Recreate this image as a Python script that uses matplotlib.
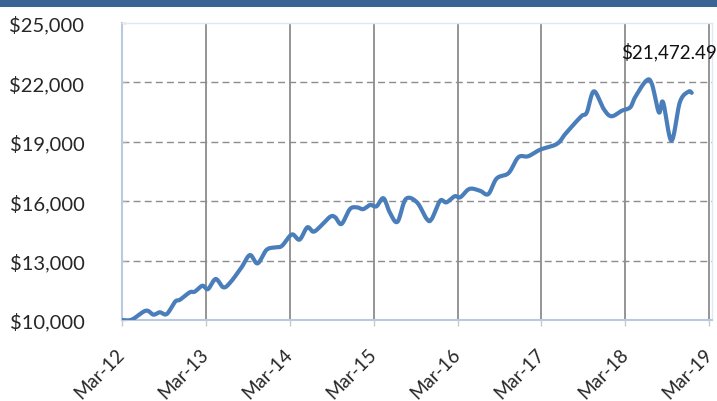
import numpy as np
import matplotlib
matplotlib.use("Agg")
import matplotlib.pyplot as plt
from matplotlib.patches import Rectangle
from matplotlib.ticker import FuncFormatter

plt.rcParams['font.family'] = ['Lato', 'DejaVu Sans']

# months after Mar-12 and portfolio value
months = [0, 1.4, 3.4, 4.5, 5.4, 6.4, 7.6, 8.3, 9.7, 10.4, 11.5, 12.3, 13.4, 14.5,
          15.5, 17.1, 18.3, 19.4, 20.7, 22.1, 22.9, 24.3, 25.4, 26.5, 27.4, 28.6,
          29.8, 30.5, 31.4, 32.6, 33.6, 34.5, 35.5, 36.4, 37.4, 38.3, 39.4, 40.6,
          42.2, 43.6, 44.3, 45.5, 46.4, 47.6, 48.4, 49.7, 51.2, 52.4, 53.6, 55.3,
          56.7, 58.1, 59.8, 62.2, 63.4, 64.8, 65.8, 66.5, 67.5, 68.9, 70.0, 71.5,
          72.7, 73.4, 75.0, 75.8, 76.8, 77.4, 78.6, 79.8, 81.0, 81.5]
values = [10000, 10020, 10470, 10270, 10390, 10300, 10925, 11025, 11400, 11430,
          11730, 11560, 12070, 11650, 11900, 12660, 13280, 12860, 13550, 13670,
          13750, 14320, 14060, 14680, 14460, 14800, 15220, 15190, 14850, 15600,
          15690, 15600, 15810, 15740, 16150, 15440, 14960, 16110, 15940, 15100,
          15100, 16020, 15940, 16250, 16200, 16620, 16530, 16360, 17150, 17420,
          18220, 18270, 18600, 18890, 19390, 19950, 20320, 20490, 21550, 20660,
          20290, 20570, 20740, 21250, 22090, 21920, 20490, 21000, 19060, 21000,
          21530, 21472.49]

tick_months = [0, 12, 24, 36, 48, 60, 72, 84]
tick_labels = ['Mar-12', 'Mar-13', 'Mar-14', 'Mar-15', 'Mar-16', 'Mar-17', 'Mar-18', 'Mar-19']
y_ticks = [10000, 13000, 16000, 19000, 22000, 25000]
last_label = '$21,472.49'


def smooth(xs, ys, n=16):
    # Catmull-Rom curve, like Excel's smoothed line
    pts = np.column_stack([xs, ys]).astype(float)
    p = np.vstack([pts[0], pts, pts[-1]])
    t = np.linspace(0, 1, n, endpoint=False)[:, None]
    out = []
    for i in range(len(pts) - 1):
        p0, p1, p2, p3 = p[i], p[i + 1], p[i + 2], p[i + 3]
        seg = 0.5 * (2 * p1 + (-p0 + p2) * t + (2 * p0 - 5 * p1 + 4 * p2 - p3) * t ** 2
                     + (-p0 + 3 * p1 - 3 * p2 + p3) * t ** 3)
        out.append(seg)
    out.append(pts[-1:])
    s = np.vstack(out)
    return s[:, 0], s[:, 1]


fig = plt.figure(figsize=(7.17, 4.02), dpi=100)
fig.patches.append(Rectangle((0, 1 - 8 / 402), 1, 8 / 402, transform=fig.transFigure,
                             facecolor='#3a6496', edgecolor='none'))

ax = fig.add_axes([122 / 717, 1 - 321 / 402, 590 / 717, 297 / 402])
ax.set_xlim(0, 84.4)
ax.set_ylim(10000, 25000)

for v in y_ticks[1:-1]:
    ax.axhline(v, color='#8c8c8c', lw=1, ls=(0, (5, 3)), zorder=1)
for m in tick_months[1:]:
    ax.axvline(m, color='#8c8c8c', lw=1.3, zorder=1)

sx, sy = smooth(months, values)
ax.plot(sx, sy, color='#4a7ebb', lw=3, solid_capstyle='round', zorder=3)

ax.text(71.4, 23560, last_label, ha='left', va='center', fontsize=13.5,
        color='#111111', clip_on=False)

ax.set_xticks(tick_months)
ax.set_xticklabels(tick_labels, rotation=45, ha='right', va='center',
                   rotation_mode='anchor')
ax.set_yticks(y_ticks)
ax.yaxis.set_major_formatter(FuncFormatter(lambda v, p: '${:,.0f}'.format(v)))

ax.tick_params(axis='x', direction='out', length=4, color='#c8c8c8', width=1,
               pad=18, labelsize=13.5, labelcolor='#262626')
ax.tick_params(axis='y', direction='in', length=3, color='#b0b0b0', width=1,
               pad=27, labelsize=14.5, labelcolor='#262626')

for side in ['left', 'bottom']:
    ax.spines[side].set_color('#b9c9df')
    ax.spines[side].set_linewidth(1.5)
for side in ['top', 'right']:
    ax.spines[side].set_color('#e2e8f0')
    ax.spines[side].set_linewidth(1)

fig.savefig('out.png', dpi=100)
